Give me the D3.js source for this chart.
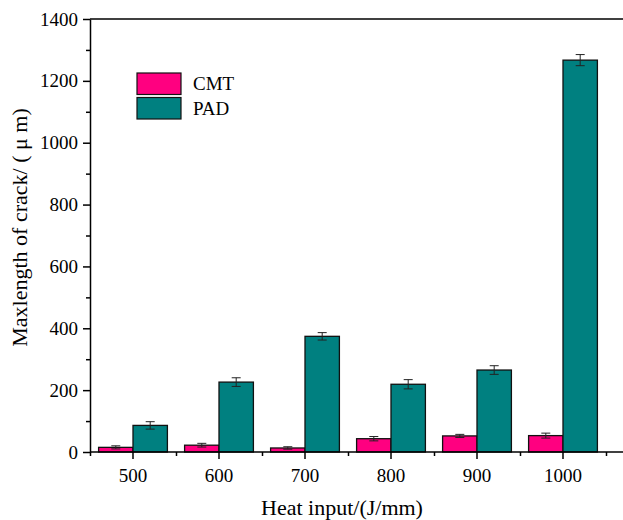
<!DOCTYPE html>
<html>
<head>
<meta charset="utf-8">
<script src="https://cdn.jsdelivr.net/npm/d3@7"></script>
<style>
  body { margin: 0; background: #fff; }
  text { font-family: "Liberation Serif", "DejaVu Serif", serif; fill: #000; }
</style>
</head>
<body>
<div id="chart"></div>
<script>
const CATEGORIES = ['500', '600', '700', '800', '900', '1000'];
const SERIES = ['CMT', 'PAD'];
const CMT_VALUES = [15, 22, 13, 43, 52, 53];
const CMT_ERRORS = [5, 6, 4, 7, 5, 8];
const PAD_VALUES = [86, 226, 374, 219, 265, 1267];
const PAD_ERRORS = [12, 14, 12, 15, 14, 18];
const Y_TICKS = [0, 200, 400, 600, 800, 1000, 1200, 1400];
const COLORS = {CMT: '#ff0080', PAD: '#008080'};

var W = 623, H = 520;
var margin = {top: 19, right: 17, bottom: 68, left: 90};
var width = W - margin.left - margin.right;
var height = H - margin.top - margin.bottom;

var svg = d3.select("#chart")
            .append("svg")
              .attr("width", W)
              .attr("height", H)
            .append("g")
              .attr("transform", "translate(" + margin.left + "," + margin.top + ")");

// build rows for each category
var rows = CATEGORIES.map(function(c, i) {
  return [
    {cat: c, series: 'CMT', value: CMT_VALUES[i], err: CMT_ERRORS[i]},
    {cat: c, series: 'PAD', value: PAD_VALUES[i], err: PAD_ERRORS[i]}
  ];
});

var x = d3.scaleBand().domain(CATEGORIES).range([0, width]).paddingInner(0).paddingOuter(0);
var xs = d3.scaleBand().domain(SERIES).range([x.bandwidth() * 0.1, x.bandwidth() * 0.9]);
var y = d3.scaleLinear().domain([0, 1400]).range([height, 0]);

// top border line
svg.append("line")
    .attr("x1", 0).attr("x2", W - margin.left)
    .attr("y1", 0).attr("y2", 0)
    .attr("stroke", "#000").attr("stroke-width", 1.5);

// bars
var groups = svg.selectAll("g.cat")
    .data(rows).enter()
    .append("g")
      .attr("class", "cat")
      .attr("transform", function(d) { return "translate(" + x(d[0].cat) + ",0)"; });

groups.selectAll("rect")
    .data(function(d) { return d; }).enter()
    .append("rect")
      .attr("x", function(d) { return xs(d.series); })
      .attr("width", xs.bandwidth())
      .attr("y", function(d) { return y(d.value); })
      .attr("height", function(d) { return y(0) - y(d.value); })
      .style("fill", function(d) { return COLORS[d.series]; })
      .style("stroke", "#111")
      .style("stroke-width", 1.3);

// error bars
var eb = groups.selectAll("g.err")
    .data(function(d) { return d; }).enter()
    .append("g")
      .attr("class", "err")
      .attr("transform", function(d) { return "translate(" + (xs(d.series) + xs.bandwidth() / 2) + ",0)"; })
      .style("stroke", "#222")
      .style("stroke-width", 1);
eb.append("line")
    .attr("y1", function(d) { return y(d.value + d.err); })
    .attr("y2", function(d) { return y(d.value - d.err); });
eb.append("line")
    .attr("x1", -4.5).attr("x2", 4.5)
    .attr("y1", function(d) { return y(d.value + d.err); })
    .attr("y2", function(d) { return y(d.value + d.err); });
eb.append("line")
    .attr("x1", -4.5).attr("x2", 4.5)
    .attr("y1", function(d) { return y(d.value - d.err); })
    .attr("y2", function(d) { return y(d.value - d.err); });

// y axis
var yAxis = svg.append("g")
    .call(d3.axisLeft(y).tickValues(Y_TICKS).tickFormat(d3.format("d")).tickSize(7).tickPadding(5).tickSizeOuter(0));
yAxis.selectAll("text").style("font-size", "19px");
svg.append("g")
    .call(d3.axisLeft(y).tickValues(d3.range(100, 1400, 200)).tickSize(4).tickFormat("").tickSizeOuter(0))
    .select(".domain").remove();

// x axis
var xAxis = svg.append("g")
    .attr("transform", "translate(0," + height + ")")
    .call(d3.axisBottom(x).tickSize(7).tickPadding(10).tickSizeOuter(0));
xAxis.selectAll("text").style("font-size", "19px");
xAxis.select(".domain").attr("d", "M0,0H" + (W - margin.left));
var edges = d3.scaleLinear().domain([0, CATEGORIES.length]).range([0, width]);
svg.append("g")
    .attr("transform", "translate(0," + height + ")")
    .call(d3.axisBottom(edges).ticks(CATEGORIES.length).tickSize(4).tickFormat("").tickSizeOuter(0))
    .select(".domain").remove();

svg.selectAll(".domain, .tick line").attr("stroke", "#000").attr("stroke-width", 1.5);

// axis titles
svg.append("text")
    .attr("x", 252)
    .attr("y", height + 63)
    .attr("text-anchor", "middle")
    .style("font-size", "22px")
    .text("Heat input/(J/mm)");
svg.append("text")
    .attr("transform", "translate(-63," + (height / 2 - 8) + ") rotate(-90)")
    .attr("text-anchor", "middle")
    .style("font-size", "22px")
    .text("Maxlength of crack/ ( μ m)");

// legend
var legend = svg.selectAll("g.legend")
    .data(SERIES).enter()
    .append("g")
      .attr("class", "legend")
      .attr("transform", function(d, i) { return "translate(47," + (54 + i * 24.5) + ")"; });
legend.append("rect")
    .attr("width", 44).attr("height", 21.5)
    .style("fill", function(d) { return COLORS[d]; })
    .style("stroke", "#111").style("stroke-width", 1.2);
legend.append("text")
    .attr("x", 56).attr("y", 17)
    .style("font-size", "19px")
    .text(function(d) { return d; });
</script>
</body>
</html>
